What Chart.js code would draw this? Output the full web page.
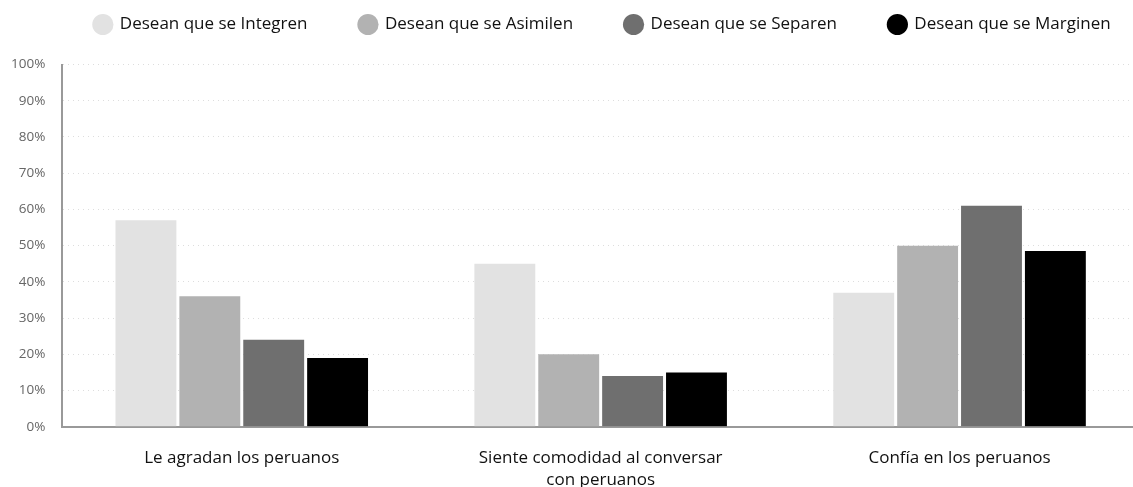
<!DOCTYPE html>
<html>
<head>
<meta charset="utf-8">
<script src="https://cdn.jsdelivr.net/npm/chart.js@4"></script>
<style>
  html, body { margin: 0; padding: 0; background: #fff; overflow: hidden; }
  #wrap { width: 1139px; height: 487px; }
</style>
</head>
<body>
<div id="wrap"><canvas id="myChart"></canvas></div>
<script>
var categories = ["Le agradan los peruanos", ["Siente comodidad al conversar", "con peruanos"], "Confía en los peruanos"];
var integren = [57, 45, 37];
var asimilen = [36, 20, 50];
var separen = [24, 14, 61];
var marginen = [19, 15, 48.5];
var yTicks = ["0%", "10%", "20%", "30%", "40%", "50%", "60%", "70%", "80%", "90%", "100%"];

var ctx = document.getElementById("myChart");
Chart.defaults.font.family = "'Open Sans'";

// legend: extra room below it and a small shift to the right
var legendTweak = {
    id: "legendTweak",
    beforeInit: function (chart) {
        var fit = chart.legend.fit;
        chart.legend.fit = function () {
            fit.bind(chart.legend)();
            this.height += 21.5;
        };
    },
    afterLayout: function (chart) {
        chart.legend.left += 36;
        chart.legend.right += 36;
    }
};

var myChart = new Chart(ctx, {
    type: "bar",
    data: {
        labels: categories,
        datasets: [
            { label: "Desean que se Integren", data: integren, backgroundColor: "#e2e2e2" },
            { label: "Desean que se Asimilen", data: asimilen, backgroundColor: "#b2b2b2" },
            { label: "Desean que se Separen", data: separen, backgroundColor: "#6f6f6f" },
            { label: "Desean que se Marginen", data: marginen, backgroundColor: "#000000" }
        ]
    },
    plugins: [legendTweak],
    options: {
        responsive: true,
        maintainAspectRatio: false,
        animation: false,
        layout: { padding: { left: -6, right: 0, top: -36, bottom: -24 } },
        datasets: { bar: { categoryPercentage: 0.712, barPercentage: 0.953 } },
        plugins: {
            legend: {
                labels: {
                    usePointStyle: true,
                    pointStyle: "circle",
                    boxWidth: 17,
                    boxHeight: 15,
                    padding: 52,
                    color: "#111",
                    font: { size: 17 }
                }
            },
            tooltip: { enabled: false }
        },
        scales: {
            x: {
                grid: { display: false, drawTicks: false },
                border: { color: "#999", width: 2 },
                ticks: { color: "#111", font: { size: 17, lineHeight: 1.3 }, padding: 20 }
            },
            y: {
                min: 0,
                max: 100,
                ticks: {
                    stepSize: 10,
                    color: "#666",
                    font: { size: 13.5 },
                    padding: 17,
                    callback: function (v, i) { return yTicks[i]; }
                },
                grid: { color: "#ddd", drawTicks: false },
                border: { color: "#999", width: 2, dash: [1, 4] }
            }
        }
    }
});
</script>
</body>
</html>
